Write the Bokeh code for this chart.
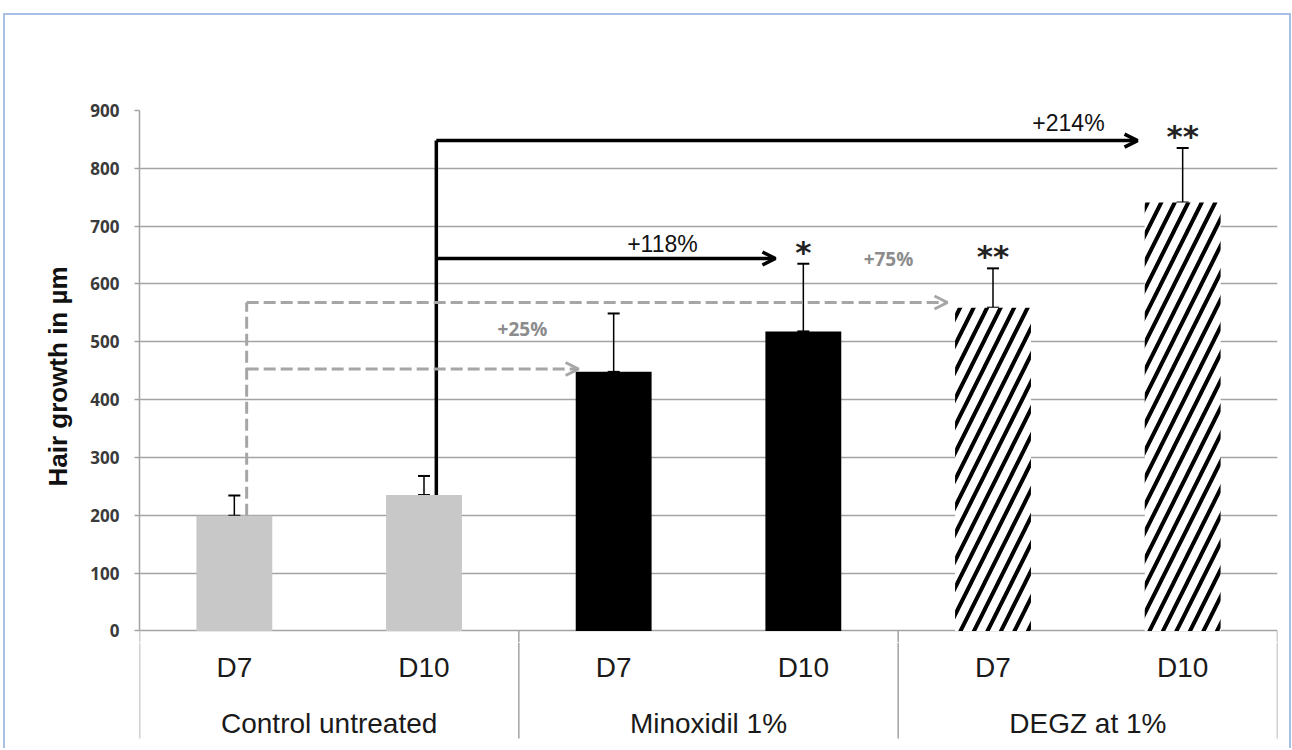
from bokeh.plotting import figure
from bokeh.models import Range1d, FixedTicker, ColumnDataSource, Whisker, TeeHead, Arrow, OpenHead
from bokeh.layouts import column
from bokeh.core.properties import value
from bokeh.embed import file_html
from bokeh.resources import INLINE

# ---- data ----
groups = ["Control untreated", "Minoxidil 1%", "DEGZ at 1%"]
days = ["D7", "D10"]
growth = [199, 235, 448, 518, 559, 741]          # mean hair growth (µm)
error = [35, 33, 101, 117, 68, 94]               # upper error (µm)
significance = ["", "", "", "*", "**", "**"]
y_ticks = [0, 100, 200, 300, 400, 500, 600, 700, 800, 900]

# comparisons: reference bar -> treated bar
comp_labels = ["+25%", "+75%", "+118%", "+214%"]
comp_from = [0, 0, 1, 1]
comp_to = [2, 4, 3, 5]
comp_level = [453, 568, 644, 848]

# ---- layout helpers (drawing positions, not data) ----
n = len(groups) * len(days)
xc = [i + 0.5 for i in range(n)]
stem_offset = 0.065
tip_gap = [0.185, 0.24, 0.147, 0.238]
label_back = [0.296, 0.311, 0.596, 0.364]
label_rise = [40, 43, 15, 18]  # px above the arrow
seps = [2 * g for g in range(len(groups) + 1)]

FONT = "Liberation Sans"
GRID = "#a3a3a3"

p = figure(width=1284, height=627, x_range=Range1d(0, n), y_range=Range1d(-20, 900),
           output_backend="svg", toolbar_location=None,
           min_border_left=134, min_border_right=12, min_border_top=95, min_border_bottom=0)
p.outline_line_color = None
p.xaxis.visible = False
p.xgrid.visible = False
p.ygrid.ticker = FixedTicker(ticks=y_ticks)
p.ygrid.grid_line_color = GRID
p.ygrid.grid_line_width = 1.5

ax = p.yaxis[0]
ax.ticker = FixedTicker(ticks=y_ticks)
ax.bounds = (0, 900)
ax.axis_line_color = GRID
ax.axis_line_width = 1.5
ax.major_tick_line_color = GRID
ax.major_tick_line_width = 1.5
ax.major_tick_in = 0
ax.major_tick_out = 5
ax.minor_tick_line_color = None
ax.major_label_standoff = 15
ax.major_label_text_font = "Open Sans"
ax.major_label_text_font_style = "bold"
ax.major_label_text_font_size = "17px"
ax.major_label_text_color = "#3a3a3a"
ax.axis_label = "Hair growth in µm"
ax.axis_label_text_font = FONT
ax.axis_label_text_font_style = "bold"
ax.axis_label_text_font_size = "26px"
ax.axis_label_text_color = "#111111"
ax.axis_label_standoff = 14

# bars
src = ColumnDataSource(dict(x=xc, top=growth, upper=[g + e for g, e in zip(growth, error)],
                            stars=significance))
ctrl = ColumnDataSource(dict(x=xc[0:2], top=growth[0:2]))
mino = ColumnDataSource(dict(x=xc[2:4], top=growth[2:4]))
degz = ColumnDataSource(dict(x=xc[4:6], top=growth[4:6]))
p.vbar(x="x", top="top", bottom=0, width=0.4, source=ctrl, fill_color="#c8c8c8", line_color=None)
p.vbar(x="x", top="top", bottom=0, width=0.4, source=mino, fill_color="black", line_color=None)
p.vbar(x="x", top="top", bottom=0, width=0.4, source=degz, fill_color="white", line_color=None,
       hatch_pattern="/", hatch_color="black", hatch_weight=4, hatch_scale=27)

# group separators continuing below the baseline
p.segment(x0=seps, y0=[0] * len(seps), x1=seps, y1=[-20] * len(seps),
          line_color=GRID, line_width=1.5)

# error bars
p.add_layout(Whisker(base="x", lower="top", upper="upper", source=src,
                     line_color="black", line_width=1.5,
                     upper_head=TeeHead(size=12, line_width=2, line_color="black"),
                     lower_head=TeeHead(size=12, line_width=2, line_color="black")))

# significance marks
p.text(x="x", y="upper", text="stars", source=src, text_align="center",
       text_baseline="alphabetic", y_offset=-12, text_font=value("DejaVu Sans"),
       text_font_style="bold", text_font_size="31px", text_color="#222222")

# comparison arrows
for ref in sorted(set(comp_from)):
    idx = [k for k in range(len(comp_from)) if comp_from[k] == ref]
    gray = ref == 0
    color = "#a6a6a6" if gray else "black"
    dash = "12 5" if gray else "solid"
    width = 3 if gray else 3.5
    sx = xc[ref] + stem_offset
    p.segment(x0=[sx], y0=[growth[ref]], x1=[sx], y1=[max(comp_level[k] for k in idx)],
              line_color=color, line_width=width, line_dash=dash)
    for k in idx:
        ex = xc[comp_to[k]] - tip_gap[k]
        p.add_layout(Arrow(x_start=sx, y_start=comp_level[k], x_end=ex, y_end=comp_level[k],
                           line_color=color, line_width=width, line_dash=dash,
                           end=OpenHead(size=13, line_width=width, line_color=color)))
        p.text(x=[ex - label_back[k]], y=[comp_level[k]], text=[comp_labels[k]],
               y_offset=-label_rise[k], text_align="center", text_baseline="middle",
               text_font=value("Open Sans" if gray else FONT),
               text_font_style="bold" if gray else "normal",
               text_font_size="19px" if gray else "23px",
               text_color="#8c8c8c" if gray else "#111111")

# category axis below the plot
q = figure(width=1284, height=106, x_range=p.x_range, y_range=Range1d(-118, -12),
           output_backend="svg", toolbar_location=None,
           min_border_left=134, min_border_right=12, min_border_top=0, min_border_bottom=0)
q.outline_line_color = None
q.axis.visible = False
q.grid.visible = False
day_labels = days * len(groups)
q.text(x=xc, y=[-37] * n, text=day_labels, text_align="center", text_baseline="middle",
       text_font=value(FONT), text_font_size="28px", text_color="#1a1a1a")
q.text(x=[2 * g + 1 for g in range(len(groups))], y=[-93] * len(groups), text=groups,
       text_align="center", text_baseline="middle",
       text_font=value(FONT), text_font_size="28px", text_color="#1a1a1a")
q.segment(x0=seps, y0=[-12] * len(seps), x1=seps, y1=[-108] * len(seps),
          line_color=GRID, line_width=1.5)

border = "2px solid #a9bfe3"
page = column(p, q, styles={"margin-left": "3px", "margin-top": "13px",
                            "border-left": border, "border-top": border, "border-right": border})

open("out.html", "w").write(file_html(page, INLINE))
